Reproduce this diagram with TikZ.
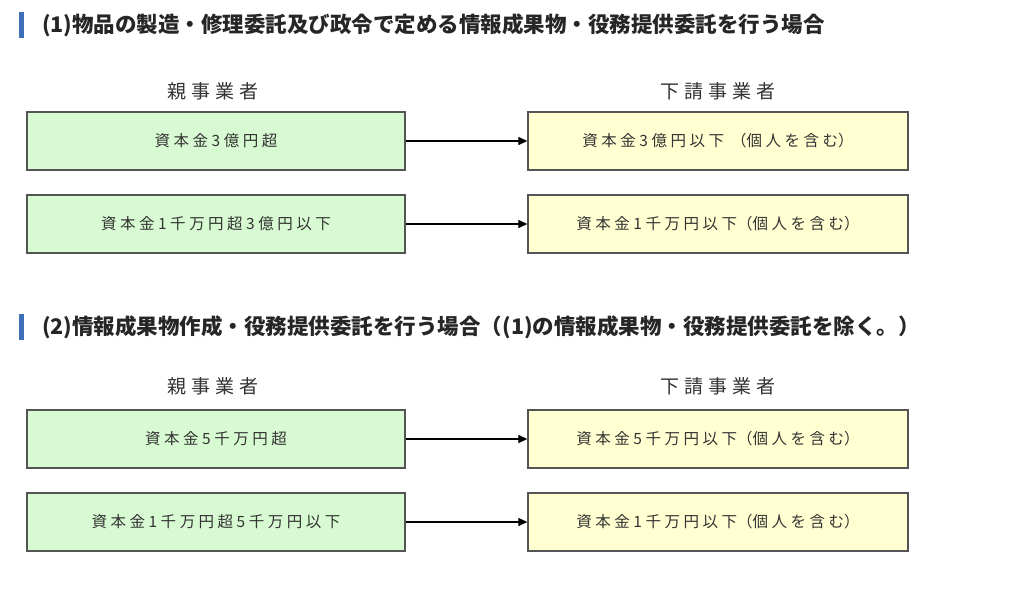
\documentclass[tikz,border=0pt]{standalone}
\usepackage{fontspec}
\newfontfamily\jp{Noto Sans CJK JP}
\usetikzlibrary{arrows.meta}
\definecolor{gfill}{HTML}{D8FAD2}
\definecolor{yfill}{HTML}{FFFFD2}
\definecolor{bord}{HTML}{555555}
\definecolor{barc}{HTML}{3F6FB8}
\tikzset{
 gbox/.style={draw=bord,line width=1.3pt,fill=gfill,minimum width=378pt,minimum height=58pt,font=\jp\fontsize{15.5}{15.5}\selectfont,text=black!80,inner sep=0pt},
 ybox/.style={gbox,fill=yfill,minimum width=380pt},
 lab/.style={font=\jp\fontsize{19}{19}\selectfont,text=black!80},
 head/.style={anchor=west,font=\jp\bfseries\fontsize{21.5}{21.5}\selectfont,text=black!85,inner sep=0pt},
 arr/.style={-{Triangle[length=9pt,width=8pt]},line width=1.2pt,black}
}
\newcommand{\gp}{\hspace{3.5pt}}
\begin{document}
\begin{tikzpicture}[x=1pt,y=-1pt]
\useasboundingbox (0,0) rectangle (1024,592);
\fill[barc] (19,12) rectangle (24,38);
\node[head] (h1) at (42,25) {(1)物品の製造・修理委託及び政令で定める情報成果物・役務提供委託を行う場合};
\node[lab] (l1) at (213,91) {親\hspace{5pt}事\hspace{5pt}業\hspace{5pt}者};
\node[lab] (r1) at (718,91) {下\hspace{5pt}請\hspace{5pt}事\hspace{5pt}業\hspace{5pt}者};
\node[gbox] (a1) at (216,141) {資\gp 本\gp 金\gp 3\gp 億\gp 円\gp 超};
\node[ybox] (b1) at (718,141) {資\gp 本\gp 金\gp 3\gp 億\gp 円\gp 以\gp 下\gp\gp （個\gp 人\gp を\gp 含\gp む）};
\node[gbox] (a2) at (216,224) {資\gp 本\gp 金\gp 1\gp 千\gp 万\gp 円\gp 超\gp 3\gp 億\gp 円\gp 以\gp 下};
\node[ybox] (b2) at (718,224) {資\gp 本\gp 金\gp 1\gp 千\gp 万\gp 円\gp 以\gp 下（個\gp 人\gp を\gp 含\gp む）};
\draw[arr] (a1) -- (b1);
\draw[arr] (a2) -- (b2);
\fill[barc] (19,314) rectangle (24,340);
\node[head] (h2) at (42,327) {(2)情報成果物作成・役務提供委託を行う場合（(1)の情報成果物・役務提供委託を除く。）};
\node[lab] (l2) at (213,386) {親\hspace{5pt}事\hspace{5pt}業\hspace{5pt}者};
\node[lab] (r2) at (718,386) {下\hspace{5pt}請\hspace{5pt}事\hspace{5pt}業\hspace{5pt}者};
\node[gbox] (a3) at (216,439) {資\gp 本\gp 金\gp 5\gp 千\gp 万\gp 円\gp 超};
\node[ybox] (b3) at (718,439) {資\gp 本\gp 金\gp 5\gp 千\gp 万\gp 円\gp 以\gp 下（個\gp 人\gp を\gp 含\gp む）};
\node[gbox] (a4) at (216,522) {資\gp 本\gp 金\gp 1\gp 千\gp 万\gp 円\gp 超\gp 5\gp 千\gp 万\gp 円\gp 以\gp 下};
\node[ybox] (b4) at (718,522) {資\gp 本\gp 金\gp 1\gp 千\gp 万\gp 円\gp 以\gp 下（個\gp 人\gp を\gp 含\gp む）};
\draw[arr] (a3) -- (b3);
\draw[arr] (a4) -- (b4);
\end{tikzpicture}
\end{document}
